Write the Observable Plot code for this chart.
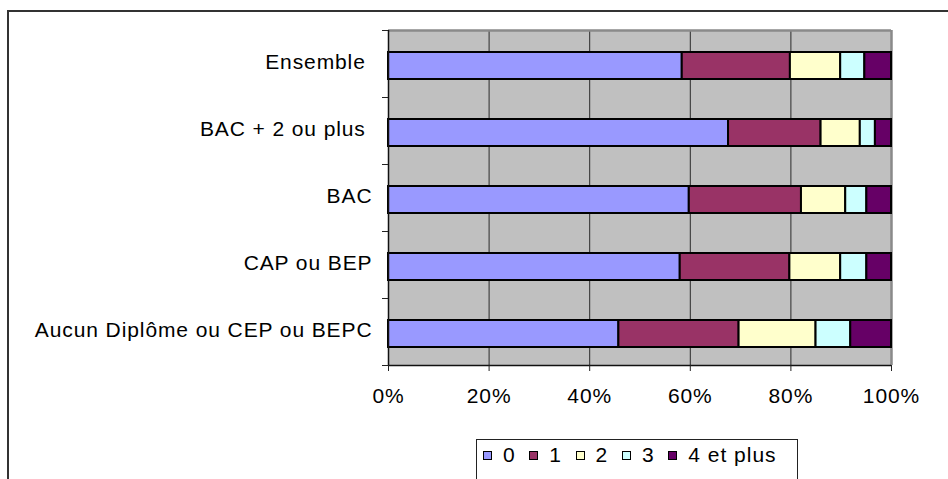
<!DOCTYPE html>
<html><head><meta charset="utf-8">
<script src="https://cdn.jsdelivr.net/npm/d3@7"></script>
<script src="https://cdn.jsdelivr.net/npm/@observablehq/plot@0.6"></script>
<style>
body{margin:0;background:#fff;font-family:"Liberation Sans",Arial,sans-serif;overflow:hidden}
#wrap{position:relative;width:948px;height:479px;overflow:hidden}
#border{position:absolute;left:7px;top:10px;width:980px;height:520px;border-left:2px solid #333;border-top:2px solid #333}
#chart{position:absolute;left:0;top:0}
#chart svg text{letter-spacing:0.9px;white-space:pre}
#legend{position:absolute;left:476px;top:439px;width:322px;height:60px;border:1px solid #222;padding-left:6px;box-sizing:border-box;line-height:30px;font-size:21px;white-space:nowrap;color:#000}
.item{display:inline-flex;align-items:center;min-width:46.3px;vertical-align:top;height:30px}
.sw{width:7px;height:7px;border:1px solid #000;flex:none}
.lb{margin-left:11px;letter-spacing:1px}
</style></head><body>
<div id="wrap"><div id="border"></div><div id="chart"></div><div id="legend"></div></div>
<script>
const categories = ["Ensemble ", "BAC + 2 ou plus ", "BAC", "CAP ou BEP", "Aucun Diplôme ou CEP ou BEPC"];
const seriesNames = ["0", "1", "2", "3", "4 et plus"];
const s0 = [58.4, 67.6, 59.8, 58.0, 45.8];
const s1 = [21.5, 18.4, 22.3, 21.8, 23.9];
const s2 = [10.0, 7.8, 8.8, 10.1, 15.3];
const s3 = [4.8, 3.0, 4.2, 5.2, 6.9];
const s4 = [5.3, 3.2, 4.9, 4.9, 8.1];
const colors = ["#9999FF", "#993366", "#FFFFCC", "#CCFFFF", "#660066"];
const xTicks = [0, 20, 40, 60, 80, 100];
const gridTicks = [20, 40, 60, 80];

const allSeries = [s0, s1, s2, s3, s4];
const data = [];
categories.forEach((c, i) => seriesNames.forEach((s, j) => data.push({cat: c, series: s, value: allSeries[j][i]})));

const W = 948, H = 430, mT = 30, mB = 65, mL = 388, mR = 57;
const bw = (H - mT - mB) / categories.length;

const chart = Plot.plot({
  width: W, height: H,
  marginLeft: mL, marginRight: mR, marginTop: mT, marginBottom: mB,
  style: {fontFamily: '"Liberation Sans", Arial, sans-serif', fontSize: "21px", background: "transparent", color: "#000", overflow: "visible"},
  x: {domain: [0, 100], axis: null},
  y: {domain: categories, padding: 0, axis: null},
  color: {domain: seriesNames, range: colors},
  marks: [
    Plot.frame({fill: "#C0C0C0", stroke: "none"}),
    Plot.ruleX(gridTicks, {stroke: "#2a2a2a", strokeWidth: 1}),
    Plot.ruleX([100], {stroke: "#8a8a8a", strokeWidth: 2.5}),
    Plot.ruleY([categories[0]], {dy: -bw / 2, stroke: "#8a8a8a", strokeWidth: 2.5}),
    Plot.barX(data, Plot.stackX({x: "value", y: "cat", fill: "series", order: null, stroke: "#000", strokeWidth: 2, insetTop: 22, insetBottom: 18})),
    Plot.ruleX([0], {stroke: "#111", strokeWidth: 1.5}),
    Plot.ruleY([categories[categories.length - 1]], {dy: bw / 2, stroke: "#111", strokeWidth: 1.5}),
    Plot.axisX({ticks: xTicks, tickFormat: d => d + "%", tickSize: 6, tickPadding: 17, stroke: "#222", fontSize: 21, label: null}),
    Plot.axisY({tickSize: 0, tickPadding: 16, dy: -2, fontSize: 21, label: null}),
    Plot.axisY({tickSize: 6, tickFormat: () => "", dy: bw / 2, stroke: "#222", label: null}),
    Plot.axisY({ticks: [categories[0]], tickSize: 6, tickFormat: () => "", dy: -bw / 2, stroke: "#222", label: null})
  ]
});
document.getElementById("chart").appendChild(chart);

const legend = document.getElementById("legend");
seriesNames.forEach((s, j) => {
  const item = document.createElement("span");
  item.className = "item";
  const sw = document.createElement("span");
  sw.className = "sw";
  sw.style.background = colors[j];
  const lb = document.createElement("span");
  lb.className = "lb";
  lb.textContent = s;
  item.appendChild(sw);
  item.appendChild(lb);
  legend.appendChild(item);
});
</script>
</body></html>
